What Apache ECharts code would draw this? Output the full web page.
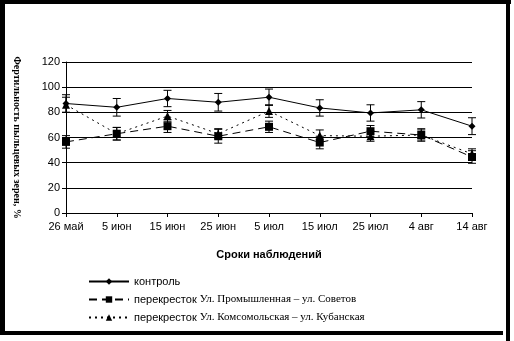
<!DOCTYPE html>
<html><head><meta charset="utf-8">
<script src="https://cdn.jsdelivr.net/npm/echarts@6/dist/echarts.min.js"></script>
<style>html,body{margin:0;padding:0;background:#fff}#c{width:514px;height:341px}</style>
</head><body><div id="c"></div>
<script>
const categories = ['26 май','5 июн','15 июн','25 июн','5 июл','15 июл','25 июл','4 авг','14 авг'];
const yTicks = [0, 20, 40, 60, 80, 100, 120];
const seriesNames = ['контроль', 'перекресток Ул. Промышленная – ул. Советов', 'перекресток Ул. Комсомольская – ул. Кубанская'];
const control = [87, 84, 91, 88, 92, 83.5, 79.5, 82, 69];
const controlErr = [7, 7, 6.5, 7, 6.5, 6.5, 6.5, 6.5, 6.7];
const prom = [56.5, 63, 69, 61, 68.5, 56, 65, 62, 44.5];
const promErr = [5, 5, 5, 5.5, 4.5, 5, 4.5, 5, 5];
const koms = [86, 63, 77, 63, 81, 61.5, 61, 62, 47];
const komsErr = [6, 5, 4.5, 4, 5, 4.5, 4, 4, 4];
const xTitle = 'Сроки наблюдений';
const yTitle = 'Фертильность пыльцевых зерен, %';

function errData(vals, errs){ return vals.map((v,i)=>[i, v-errs[i], v+errs[i]]); }
function errSeries(vals, errs){
  return {
    type:'custom', silent:true, z:3,
    data: errData(vals, errs),
    encode:{x:0, y:[1,2]},
    renderItem:function(params, api){
      const x = api.value(0);
      const lo = api.coord([x, api.value(1)]);
      const hi = api.coord([x, api.value(2)]);
      const w = 4;
      const st = {stroke:'#000', lineWidth:1};
      return {type:'group', children:[
        {type:'line', shape:{x1:lo[0], y1:lo[1], x2:hi[0], y2:hi[1]}, style:st},
        {type:'line', shape:{x1:lo[0]-w, y1:lo[1], x2:lo[0]+w, y2:lo[1]}, style:st},
        {type:'line', shape:{x1:hi[0]-w, y1:hi[1], x2:hi[0]+w, y2:hi[1]}, style:st}
      ]};
    }
  };
}

const chart = echarts.init(document.getElementById('c'), null, {renderer:'canvas'});
const font = 'Liberation Sans, Arial, sans-serif';
chart.setOption({
  animation:false,
  backgroundColor:'#fff',
  grid:{left:66, right:42, top:62, bottom:128},
  xAxis:{
    type:'category', data:categories, boundaryGap:false,
    axisLine:{lineStyle:{color:'#000', width:1}},
    axisTick:{show:true, alignWithLabel:true, length:4, lineStyle:{color:'#000'}},
    axisLabel:{color:'#000', fontSize:11, fontFamily:font, margin:8},
    name:xTitle, nameLocation:'middle', nameGap:36,
    nameTextStyle:{color:'#000', fontSize:11, fontWeight:'bold', fontFamily:font}
  },
  yAxis:{
    type:'value', min:0, max:120, interval:20,
    axisLine:{show:true, lineStyle:{color:'#000', width:1}},
    axisTick:{show:true, length:4, lineStyle:{color:'#000'}},
    axisLabel:{color:'#000', fontSize:11, fontFamily:font, margin:6,
      formatter:function(v){ return yTicks.indexOf(v)>=0 ? String(v) : ''; }},
    splitLine:{show:true, lineStyle:{color:'#000', width:1}},
    name:yTitle, nameLocation:'middle', nameGap:44, nameRotate:-90,
    nameTextStyle:{color:'#000', fontSize:10, fontWeight:'bold', fontFamily:'Liberation Serif, Times New Roman, serif'}
  },
  legend:{
    orient:'vertical', left:83, top:271, itemWidth:40, itemHeight:8, itemGap:7,
    data:seriesNames,
    textStyle:{color:'#000', fontSize:11, fontFamily:font,
      rich:{s:{fontFamily:'Liberation Serif, Times New Roman, serif', fontSize:11, color:'#000'},
            a:{fontFamily:font, fontSize:11, color:'#000'}}},
    formatter:function(n){
      const i = n.indexOf(' ');
      if (i < 0) return '{a|' + n + '}';
      return '{a|' + n.slice(0,i) + '} {s|' + n.slice(i+1) + '}';
    }
  },
  graphic:[
    {type:'rect', shape:{x:0, y:0, width:511, height:4}, style:{fill:'#000'}, z:100},
    {type:'rect', shape:{x:0, y:0, width:5, height:335}, style:{fill:'#000'}, z:100},
    {type:'rect', shape:{x:506, y:0, width:4, height:341}, style:{fill:'#000'}, z:100},
    {type:'rect', shape:{x:0, y:331, width:503, height:4}, style:{fill:'#000'}, z:100}
  ],
  series:[
    {name:seriesNames[0], type:'line', data:control, symbol:'diamond', symbolSize:7,
      itemStyle:{color:'#000'}, lineStyle:{color:'#000', width:1, type:'solid'}, z:5},
    {name:seriesNames[1], type:'line', data:prom, symbol:'rect', symbolSize:8,
      itemStyle:{color:'#000'}, lineStyle:{color:'#000', width:1, type:[8,5]}, z:5},
    {name:seriesNames[2], type:'line', data:koms, symbol:'triangle', symbolSize:8,
      itemStyle:{color:'#000'}, lineStyle:{color:'#000', width:1, type:[2,4]}, z:5},
    errSeries(control, controlErr),
    errSeries(prom, promErr),
    errSeries(koms, komsErr)
  ]
});
</script></body></html>
